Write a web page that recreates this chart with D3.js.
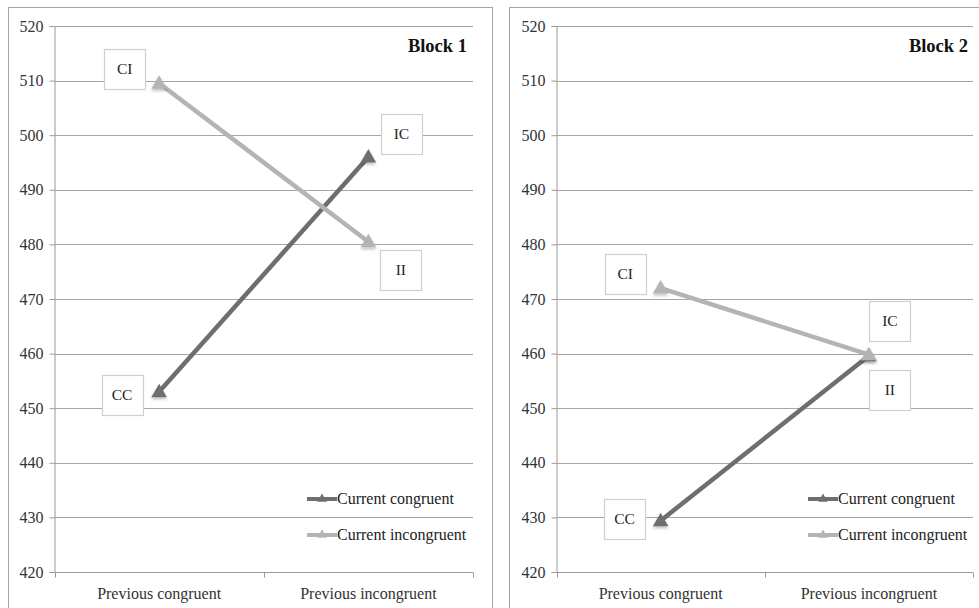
<!DOCTYPE html>
<html>
<head>
<meta charset="utf-8">
<script src="https://cdn.jsdelivr.net/npm/d3@7"></script>
<style>
  html, body { margin: 0; padding: 0; background: #fff; }
  svg { display: block; }
  text { font-family: "Liberation Serif", "DejaVu Serif", "Times New Roman", serif; }
</style>
</head>
<body>
<svg id="chart" width="979" height="608"></svg>
<script>
// Categories on the x axis (previous trial type)
const categories = ["Previous congruent", "Previous incongruent"];
// Panel titles
const blockNames = ["Block 1", "Block 2"];
// Series names
const seriesNames = ["Current congruent", "Current incongruent"];
// Mean reaction times (ms), Block 1
const block1Congruent = [453, 496];
const block1Incongruent = [509.5, 480.5];
// Mean reaction times (ms), Block 2
const block2Congruent = [429.4, 459.6];
const block2Incongruent = [472, 459.8];
// Condition labels for each point
const congruentLabels = ["CC", "IC"];
const incongruentLabels = ["CI", "II"];
// Y axis ticks
const yTicks = [420, 430, 440, 450, 460, 470, 480, 490, 500, 510, 520];

const svg = d3.select("#chart");
const colors = ["#6e6e6e", "#b4b4b4"];

// Soft shadow under the markers
const defs = svg.append("defs");
const f = defs.append("filter").attr("id", "shadow")
  .attr("x", "-50%").attr("y", "-50%").attr("width", "200%").attr("height", "200%");
f.append("feDropShadow").attr("dx", 0).attr("dy", 2).attr("stdDeviation", 1.5)
  .attr("flood-color", "#000").attr("flood-opacity", 0.25);

// Panel frames and plot extents
const panels = [
  { frame: [8.5, 7.5, 484, 640], left: 54.5, right: 473, title: 467,
    legendX: 307, congruent: block1Congruent, incongruent: block1Incongruent,
    // label box offsets from their points [dx, dy] for congruent then incongruent
    congOff: [[-37, 3], [33, -23]], incOff: [[-34.5, -14.5], [32.5, 28]] },
  { frame: [509.5, 7.5, 520, 640], left: 556.5, right: 973, title: 968,
    legendX: 808, congruent: block2Congruent, incongruent: block2Incongruent,
    congOff: [[-36, -2], [21, -35]], incOff: [[-35.5, -14.5], [21, 35]] }
];

const plotTop = 26, plotBottom = 572;
const y = d3.scaleLinear().domain([420, 520]).range([plotBottom, plotTop]);

panels.forEach((p, pi) => {
  const g = svg.append("g");

  g.append("rect")
    .attr("x", p.frame[0]).attr("y", p.frame[1])
    .attr("width", p.frame[2]).attr("height", p.frame[3])
    .attr("fill", "#fff").attr("stroke", "#a3a3a3").attr("stroke-width", 1);

  const x = d3.scalePoint().domain(categories).range([p.left, p.right]).padding(0.5);

  // Horizontal gridlines
  g.append("g").selectAll("line").data(yTicks.slice(1)).join("line")
    .attr("x1", p.left).attr("x2", p.right)
    .attr("y1", d => Math.round(y(d)) + 0.5).attr("y2", d => Math.round(y(d)) + 0.5)
    .attr("stroke", "#a6a6a6").attr("stroke-width", 1);

  // Y axis
  const yAxis = g.append("g").attr("transform", `translate(${p.left},0)`)
    .call(d3.axisLeft(y).tickValues(yTicks).tickSize(5).tickPadding(6).tickFormat(d3.format("d")));
  yAxis.attr("font-family", null);
  yAxis.select(".domain").attr("stroke", "#9a9a9a");
  yAxis.selectAll(".tick line").attr("stroke", "#9a9a9a");
  yAxis.selectAll(".tick text").attr("fill", "#333").attr("font-size", 16);

  // X axis with ticks at category boundaries
  const xAxisG = g.append("g").attr("transform", `translate(0,${plotBottom + 0.5})`);
  xAxisG.append("line").attr("x1", p.left).attr("x2", p.right)
    .attr("stroke", "#9a9a9a");
  const bounds = [p.left, (p.left + p.right) / 2, p.right];
  xAxisG.selectAll("line.tk").data(bounds).join("line").attr("class", "tk")
    .attr("x1", d => Math.round(d) + 0.5).attr("x2", d => Math.round(d) + 0.5)
    .attr("y1", 0).attr("y2", 5).attr("stroke", "#9a9a9a");
  xAxisG.selectAll("text").data(categories).join("text")
    .attr("x", d => x(d)).attr("y", 26)
    .attr("text-anchor", "middle").attr("font-size", 16).attr("fill", "#333")
    .text(d => d);

  // Series lines and markers
  const series = [p.congruent, p.incongruent];
  const line = d3.line().x((d, i) => x(categories[i])).y(d => y(d));
  const tri = d3.symbol().type(d3.symbolTriangle).size(105);

  series.forEach((vals, si) => {
    g.append("path").datum(vals).attr("d", line)
      .attr("fill", "none").attr("stroke", colors[si]).attr("stroke-width", 4.5);
  });
  series.forEach((vals, si) => {
    g.append("g").selectAll("path").data(vals).join("path")
      .attr("d", tri)
      .attr("transform", (d, i) => `translate(${x(categories[i])},${y(d) + 1})`)
      .attr("fill", colors[si]).attr("filter", "url(#shadow)");
  });

  // Condition label boxes
  const labelSets = [
    { names: congruentLabels, vals: p.congruent, off: p.congOff },
    { names: incongruentLabels, vals: p.incongruent, off: p.incOff }
  ];
  labelSets.forEach(ls => {
    ls.names.forEach((name, i) => {
      const cx = x(categories[i]) + ls.off[i][0];
      const cy = y(ls.vals[i]) + ls.off[i][1];
      const w = 41, h = 40;
      g.append("rect")
        .attr("x", Math.round(cx - w / 2) + 0.5).attr("y", Math.round(cy - h / 2) + 0.5)
        .attr("width", w).attr("height", h)
        .attr("fill", "#fff").attr("stroke", "#cfcfcf").attr("stroke-width", 1.2);
      g.append("text").attr("x", cx).attr("y", cy + 5)
        .attr("text-anchor", "middle").attr("font-size", 15.5).attr("fill", "#222")
        .text(name);
    });
  });

  // Panel title
  g.append("text").attr("x", p.title).attr("y", 52)
    .attr("text-anchor", "end").attr("font-size", 18.5).attr("font-weight", "bold")
    .attr("fill", "#111").text(blockNames[pi]);

  // Legend
  const legY = [499, 535];
  seriesNames.forEach((name, si) => {
    const lg = g.append("g");
    lg.append("line").attr("x1", p.legendX).attr("x2", p.legendX + 30)
      .attr("y1", legY[si]).attr("y2", legY[si])
      .attr("stroke", colors[si]).attr("stroke-width", 4);
    lg.append("path").attr("d", d3.symbol().type(d3.symbolTriangle).size(40))
      .attr("transform", `translate(${p.legendX + 15},${legY[si]})`)
      .attr("fill", colors[si]);
    lg.append("text").attr("x", p.legendX + 30).attr("y", legY[si] + 5)
      .attr("font-size", 16).attr("fill", "#222").text(name);
  });
});
</script>
</body>
</html>
